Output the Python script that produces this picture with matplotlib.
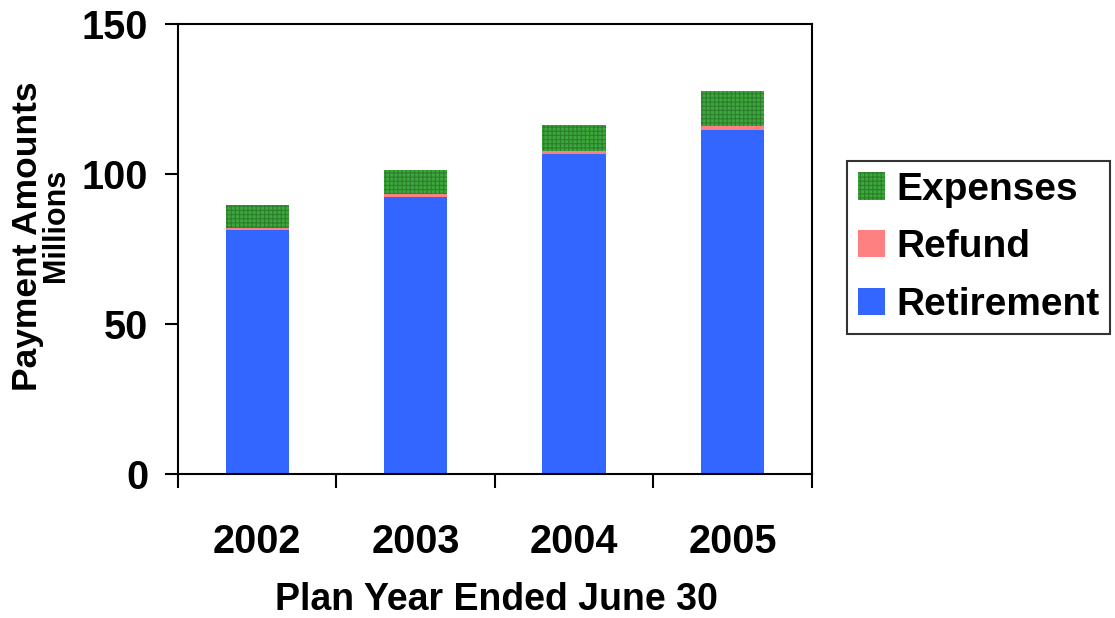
import matplotlib.pyplot as plt
import numpy as np

plt.rcParams['font.family'] = ['Liberation Sans', 'DejaVu Sans']
plt.rcParams['font.weight'] = 'bold'
plt.rcParams['hatch.linewidth'] = 0.8

years = ['2002', '2003', '2004', '2005']
retirement = [81.3, 92.4, 106.7, 114.7]
refund = [0.7, 1.0, 1.1, 1.4]
expenses = [7.7, 7.9, 8.5, 11.6]

fig = plt.figure(figsize=(11.15, 6.18), dpi=100)
ax = fig.add_axes([0.1596, 0.233, 0.5686, 0.728])

x = np.arange(len(years))
w = 0.4
b1 = ax.bar(x, retirement, w, color='#3366ff', linewidth=0, label='Retirement')
b2 = ax.bar(x, refund, w, bottom=retirement, color='#ff8080', linewidth=0, label='Refund')
base = np.array(retirement) + np.array(refund)
b3 = ax.bar(x, expenses, w, bottom=base, facecolor='#3da63d', edgecolor='#2b7f2b',
            hatch='++++', linewidth=0, label='Expenses')

ax.set_xlim(-0.5, 3.5)
ax.set_ylim(0, 150)
ax.set_yticks([0, 50, 100, 150])
ax.tick_params(axis='y', direction='out', length=9.5, width=1.5, pad=12, labelsize=28.5)

# boundary ticks between categories, year labels centred on the bars
ax.set_xticks([-0.5, 0.5, 1.5, 2.5, 3.5])
ax.set_xticklabels([])
ax.tick_params(axis='x', which='major', direction='out', length=10, width=1.5)
ax.set_xticks(x, minor=True)
ax.set_xticklabels(years, minor=True)
ax.tick_params(axis='x', which='minor', length=0, pad=35, labelsize=28.5)

for s in ax.spines.values():
    s.set_linewidth(1.5)
    s.set_color('black')

fig.text(0.0245, 1 - 236 / 618, 'Payment Amounts', rotation=90, ha='center', va='center',
         fontsize=25.5, fontweight='bold')
fig.text(0.0505, 1 - 225 / 618, 'Millions', rotation=90, ha='center', va='center',
         fontsize=22, fontweight='bold')
fig.text(0.445, 8 / 618, 'Plan Year Ended June 30', ha='center', va='baseline',
         fontsize=27, fontweight='bold')

leg = ax.legend([b3, b2, b1], ['Expenses', 'Refund', 'Retirement'],
                loc='upper left', bbox_to_anchor=(847 / 1115, 1 - 161 / 618),
                bbox_transform=fig.transFigure, borderaxespad=0,
                fontsize=28, frameon=True, fancybox=False, edgecolor='black',
                handlelength=0.7, handleheight=0.7, handletextpad=0.3,
                labelspacing=0.56, borderpad=0.27)
leg.get_frame().set_linewidth(1.5)

fig.savefig('out.png', dpi=100)
